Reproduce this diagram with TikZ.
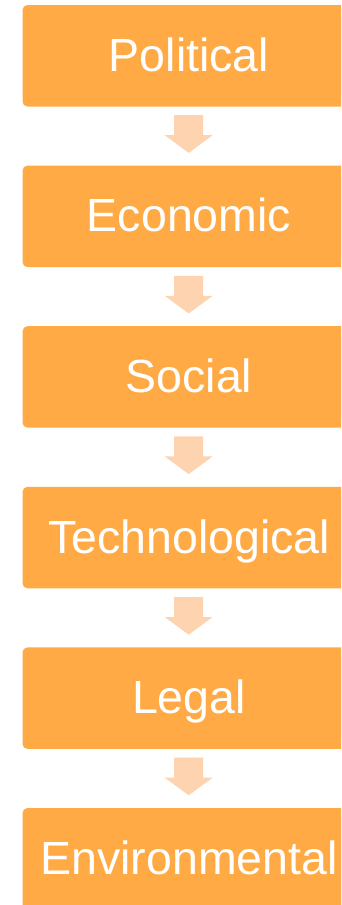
\documentclass[tikz,border=0pt]{standalone}
\usepackage{fontspec}
\setmainfont{Liberation Sans}
\usetikzlibrary{calc}
\definecolor{boxorange}{HTML}{FFAA44}
\definecolor{arrowpeach}{HTML}{FED3B0}
\begin{document}
\begin{tikzpicture}[x=1pt,y=-1pt,
  stagebox/.style={fill=boxorange, rounded corners=5pt, minimum width=333pt,
    minimum height=101.5pt, inner sep=0pt, text=white,
    font=\fontsize{46.5}{50}\selectfont, text height=33.4pt, text depth=2.4pt},
  flowarrow/.style={fill=arrowpeach}]
\useasboundingbox (0,0) rectangle (341,905);
\clip (0,0) rectangle (341,905);
\node[stagebox] (b1) at (189, 55.75) {Political};
\node[stagebox] (b2) at (189, 216.35) {Economic};
\node[stagebox] (b3) at (189, 376.95) {Social};
\node[stagebox] (b4) at (189, 537.55) {Technological};
\node[stagebox] (b5) at (189, 698.15) {Legal};
\node[stagebox] (b6) at (189, 858.75) {Environmental};
\foreach \a/\b in {b1/b2, b2/b3, b3/b4, b4/b5, b5/b6} {
  \fill[flowarrow] ($(\a.south)+(-14.8,8.5)$) -- ($(\a.south)+(14.2,8.5)$)
    -- ($(\a.south)+(14.2,28.5)$) -- ($(\a.south)+(23.7,28.5)$)
    -- ($(\b.north)+(-0.3,-12.5)$) -- ($(\a.south)+(-24.3,28.5)$)
    -- ($(\a.south)+(-14.8,28.5)$) -- cycle;
}
\end{tikzpicture}
\end{document}
